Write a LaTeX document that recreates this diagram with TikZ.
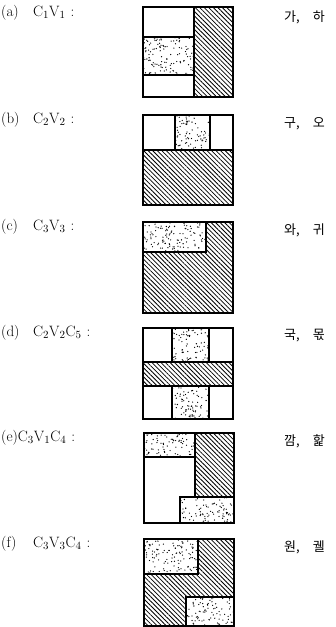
\documentclass[tikz,border=0pt]{standalone}
\usepackage{fontspec}
\newfontfamily\korfont{Noto Sans CJK KR}
\usetikzlibrary{patterns.meta}

% white rectangle with random dots, framed
\newcommand{\stipple}[4]{%
  \fill[white] (#1,#2) rectangle (#3,#4);
  \begin{scope}
    \clip (#1,#2) rectangle (#3,#4);
    \pgfmathtruncatemacro{\ndots}{abs((#3-#1)*(#4-#2))/16}
    \foreach \k in {1,...,\ndots}
      \fill ({#1+rnd*(#3-#1)},{#2+rnd*(#4-#2)}) circle (0.65pt);
  \end{scope}
  \draw[inner] (#1,#2) rectangle (#3,#4);
}

\begin{document}
\begin{tikzpicture}[x=1pt,y=-1pt,
  box/.style={line width=1.5pt},
  inner/.style={line width=1.1pt},
  hatch/.style={pattern={Lines[angle=-45,distance=3.2pt,line width=0.8pt]}},
  lab/.style={anchor=west,inner sep=0pt,font=\fontsize{15}{17}\selectfont},
  kor/.style={anchor=west,inner sep=0pt,font=\korfont\fontsize{13}{15}\selectfont}]
  \useasboundingbox (0,0) rectangle (336,627);
  \pgfmathsetseed{31}

  % labels
  \node[lab] (la) at (1,13)  {\makebox[32pt][l]{(a)}C$_1$V$_1$\hspace{5pt}:};
  \node[lab] (lb) at (1,120) {\makebox[32pt][l]{(b)}C$_2$V$_2$\hspace{5pt}:};
  \node[lab] (lc) at (1,227) {\makebox[32pt][l]{(c)}C$_3$V$_3$\hspace{5pt}:};
  \node[lab] (ld) at (1,333) {\makebox[32pt][l]{(d)}C$_2$V$_2$C$_5$\hspace{5pt}:};
  \node[lab] (le) at (1,438) {(e)C$_3$V$_1$C$_4$\hspace{5pt}:};
  \node[lab] (lf) at (1,544) {\makebox[32pt][l]{(f)}C$_3$V$_3$C$_4$\hspace{5pt}:};

  \node[kor] (ka) at (284,17)  {가,\quad 하};
  \node[kor] (kb) at (284,124) {구,\quad 오};
  \node[kor] (kc) at (284,230) {와,\quad 귀};
  \node[kor] (kd) at (284,336) {국,\quad 몫};
  \node[kor] (ke) at (284,441) {깜,\quad 핥};
  \node[kor] (kf) at (284,547) {원,\quad 궬};

  % (a)
  \begin{scope}[shift={(143,7)}]
    \fill[hatch] (51,0) rectangle (90,90);
    \stipple{0}{30}{51}{68}
    \draw[inner] (51,0) -- (51,90);
    \draw[box] (0,0) rectangle (90,90);
  \end{scope}

  % (b)
  \begin{scope}[shift={(143,115)}]
    \fill[hatch] (0,35) rectangle (90,90);
    \stipple{32}{0}{67}{35}
    \draw[inner] (0,35) -- (90,35);
    \draw[box] (0,0) rectangle (90,90);
  \end{scope}

  % (c)
  \begin{scope}[shift={(143,222)}]
    \fill[hatch] (0,0) rectangle (90,91);
    \stipple{0}{0}{63}{30}
    \draw[box] (0,0) rectangle (90,91);
  \end{scope}

  % (d)
  \begin{scope}[shift={(143,328)}]
    \fill[hatch] (0,34) rectangle (90,58);
    \stipple{29}{0}{66}{34}
    \stipple{29}{58}{66}{91}
    \draw[inner] (0,34) -- (90,34) (0,58) -- (90,58);
    \draw[box] (0,0) rectangle (90,91);
  \end{scope}

  % (e)
  \begin{scope}[shift={(144,433)}]
    \fill[hatch] (51,0) rectangle (90,64);
    \stipple{0}{0}{51}{24}
    \stipple{36}{64}{90}{90}
    \draw[inner] (51,0) -- (51,64);
    \draw[box] (0,0) rectangle (90,90);
  \end{scope}

  % (f)
  \begin{scope}[shift={(144,539)}]
    \fill[hatch] (0,0) rectangle (90,87);
    \stipple{0}{0}{54}{35}
    \stipple{42}{58}{90}{87}
    \draw[box] (0,0) rectangle (90,87);
  \end{scope}
\end{tikzpicture}
\end{document}
